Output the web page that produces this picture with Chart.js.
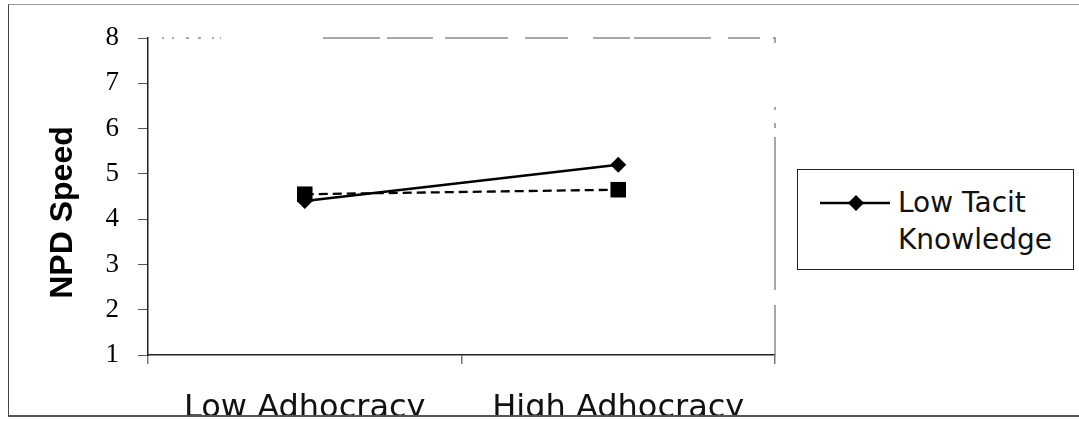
<!DOCTYPE html>
<html>
<head>
<meta charset="utf-8">
<script src="https://cdn.jsdelivr.net/npm/chart.js@4/dist/chart.umd.min.js"></script>
<style>
  html, body { margin: 0; padding: 0; background: #fff; overflow: hidden; width: 1079px; height: 422px; }
  #frame {
    position: absolute; left: 8px; top: 4px; width: 1090px; height: 413px;
    box-sizing: border-box; overflow: hidden;
    border-top: 1px solid #9a9a9a; border-left: 1px solid #444; border-bottom: 2px solid #555;
  }
  #chart { position: absolute; left: -9px; top: -5px; }
  #legend {
    position: absolute; left: 797px; top: 169px; width: 277px; height: 101px;
    box-sizing: border-box; border: 1px solid #222; background: #fff;
  }
  #legend svg { position: absolute; left: 22px; top: 22px; }
  #legend .txt {
    position: absolute; left: 100px; top: 14px; width: 175px;
    font-family: "DejaVu Sans", sans-serif; font-size: 28px; line-height: 37px; color: #111;
  }
</style>
</head>
<body>
<div id="frame"><canvas id="chart" width="1079" height="440"></canvas></div>
<div id="legend"></div>
<script>
// Categories and series values
const categories = ['Low Adhocracy', 'High Adhocracy'];
const lowTacit = [4.4, 5.2];
const highTacit = [4.55, 4.65];
const seriesNames = ['Low Tacit Knowledge', 'High Tacit Knowledge'];
const yTickValues = [1, 2, 3, 4, 5, 6, 7, 8];
const yAxisTitle = 'NPD Speed';

// Faint, broken grey border along the top and right of the plot area
// (pieces given as pixel offsets from the plot's left / top edge)
const topPieces = [[14, 16], [24, 26], [38, 41], [50, 53], [64, 66], [72, 73],
  [175, 232], [239, 285], [297, 360], [377, 420], [445, 482], [486, 563], [580, 612], [625, 628]];
const rightPieces = [[-1, 5], [69, 72], [85, 90], [99, 252], [267, 317]];

const plotFrame = {
  id: 'plotFrame',
  beforeDatasetsDraw(chart) {
    const { ctx, chartArea: a } = chart;
    ctx.save();
    ctx.strokeStyle = '#8c8c8c';
    ctx.lineWidth = 1.5;
    ctx.beginPath();
    topPieces.forEach(([s, e]) => {
      ctx.moveTo(a.left + s, a.top);
      ctx.lineTo(Math.min(a.left + e, a.right), a.top);
    });
    rightPieces.forEach(([s, e]) => {
      ctx.moveTo(a.right, a.top + s);
      ctx.lineTo(a.right, Math.min(a.top + e, a.bottom));
    });
    ctx.stroke();
    ctx.restore();
  }
};

// Rotated value-axis title
const axisTitle = {
  id: 'axisTitle',
  afterDraw(chart) {
    const { ctx, chartArea: a } = chart;
    ctx.save();
    ctx.translate(a.left - 76, (a.top + a.bottom) / 2 + 16);
    ctx.rotate(-Math.PI / 2);
    ctx.font = 'bold 32px "Liberation Sans", Arial, sans-serif';
    ctx.fillStyle = '#000';
    ctx.textAlign = 'center';
    ctx.textBaseline = 'alphabetic';
    ctx.fillText(yAxisTitle, 0, 0);
    ctx.restore();
  }
};

const chart = new Chart(document.getElementById('chart'), {
  type: 'line',
  data: {
    labels: categories,
    datasets: [
      {
        label: seriesNames[0],
        data: lowTacit,
        borderColor: '#000',
        backgroundColor: '#000',
        borderWidth: 2.5,
        pointStyle: 'rectRot',
        pointRadius: 8,
        pointBorderWidth: 0,
        tension: 0
      },
      {
        label: seriesNames[1],
        data: highTacit,
        borderColor: '#000',
        backgroundColor: '#000',
        borderWidth: 2.3,
        borderDash: [9, 5],
        pointStyle: 'rect',
        pointRadius: 11,
        pointBorderWidth: 0,
        tension: 0
      }
    ]
  },
  options: {
    responsive: false,
    animation: false,
    devicePixelRatio: 1,
    layout: { padding: { left: 0, right: 304, top: 38, bottom: 0 } },
    plugins: { legend: { display: false }, tooltip: { enabled: false } },
    scales: {
      x: {
        type: 'category',
        offset: true,
        grid: { offset: true, drawOnChartArea: false, drawTicks: true, tickLength: 9, color: '#777', lineWidth: 1.5 },
        border: { display: true, color: '#222', width: 1.5 },
        ticks: {
          font: { family: '"DejaVu Sans", sans-serif', size: 32 },
          color: '#111', padding: 25, maxRotation: 0, autoSkip: false
        },
        afterFit(s) { s.height = 85; }
      },
      y: {
        min: yTickValues[0],
        max: yTickValues[yTickValues.length - 1],
        afterBuildTicks(s) { s.ticks = yTickValues.map(v => ({ value: v })); },
        grid: { drawOnChartArea: false, drawTicks: true, tickLength: 10, color: '#555', lineWidth: 1 },
        border: { display: true, color: '#222', width: 1.5 },
        ticks: {
          font: { family: '"Liberation Serif", "Times New Roman", serif', size: 27 },
          color: '#000', padding: 19
        },
        afterFit(s) { s.width = 148; }
      }
    }
  },
  plugins: [plotFrame, axisTitle]
});

// Legend box built from the first series' style
(function buildLegend() {
  const ds = chart.data.datasets[0];
  const svgNS = 'http://www.w3.org/2000/svg';
  const legend = document.getElementById('legend');
  const svg = document.createElementNS(svgNS, 'svg');
  svg.setAttribute('width', '72');
  svg.setAttribute('height', '22');
  const line = document.createElementNS(svgNS, 'line');
  line.setAttribute('x1', '0'); line.setAttribute('y1', '11');
  line.setAttribute('x2', '70'); line.setAttribute('y2', '11');
  line.setAttribute('stroke', ds.borderColor);
  line.setAttribute('stroke-width', ds.borderWidth);
  svg.appendChild(line);
  const r = ds.pointRadius;
  const cx = 36, cy = 11;
  const diamond = document.createElementNS(svgNS, 'polygon');
  diamond.setAttribute('points', `${cx - r},${cy} ${cx},${cy - r} ${cx + r},${cy} ${cx},${cy + r}`);
  diamond.setAttribute('fill', ds.backgroundColor);
  svg.appendChild(diamond);
  legend.appendChild(svg);
  const txt = document.createElement('div');
  txt.className = 'txt';
  txt.textContent = ds.label;
  legend.appendChild(txt);
})();
</script>
</body>
</html>
